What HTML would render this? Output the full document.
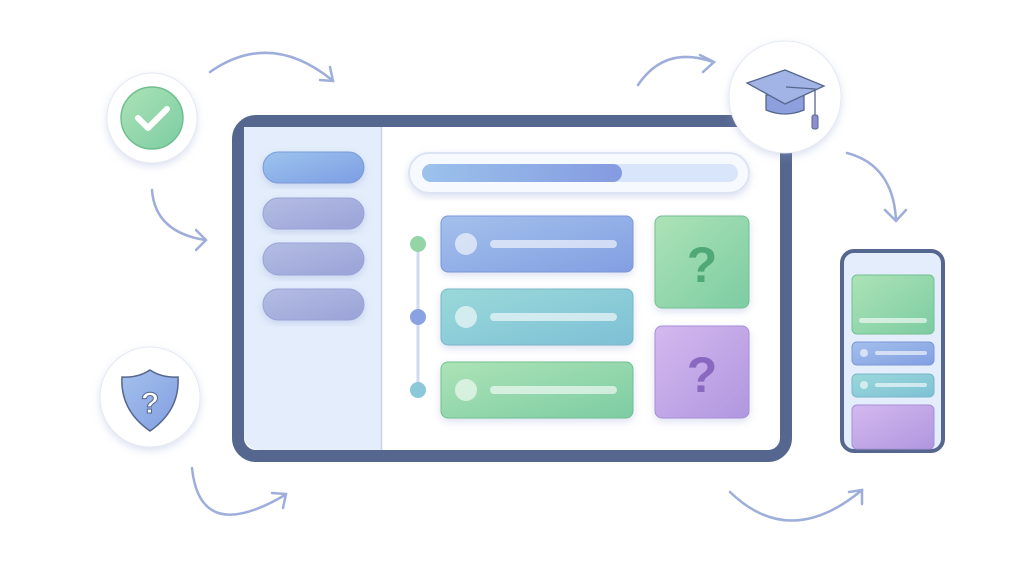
<!DOCTYPE html>
<html><head><meta charset="utf-8"><style>
html,body{margin:0;padding:0;background:#fff;width:1024px;height:576px;overflow:hidden}
</style></head><body>
<svg width="1024" height="576" viewBox="0 0 1024 576" xmlns="http://www.w3.org/2000/svg">
<defs>
<linearGradient id="gb" x1="0" y1="0" x2="1" y2="1"><stop offset="0" stop-color="#9cc4ee"/><stop offset="1" stop-color="#7d9de3"/></linearGradient>
<linearGradient id="gp" x1="0" y1="0" x2="1" y2="1"><stop offset="0" stop-color="#b4bde3"/><stop offset="1" stop-color="#9aa2d8"/></linearGradient>
<linearGradient id="c1" x1="0" y1="0" x2="1" y2="1"><stop offset="0" stop-color="#a4c0ec"/><stop offset="1" stop-color="#829fe2"/></linearGradient>
<linearGradient id="c2" x1="0" y1="0" x2="1" y2="1"><stop offset="0" stop-color="#9ad9d9"/><stop offset="1" stop-color="#7ec0d6"/></linearGradient>
<linearGradient id="c3" x1="0" y1="0" x2="1" y2="1"><stop offset="0" stop-color="#ace3b6"/><stop offset="1" stop-color="#7dcca3"/></linearGradient>
<linearGradient id="c4" x1="0" y1="0" x2="1" y2="1"><stop offset="0" stop-color="#d4b8ef"/><stop offset="1" stop-color="#b097df"/></linearGradient>
<linearGradient id="pr" x1="0" y1="0" x2="1" y2="0"><stop offset="0" stop-color="#9cc2ec"/><stop offset="1" stop-color="#849be0"/></linearGradient>
<filter id="sh" x="-20%" y="-20%" width="140%" height="140%"><feDropShadow dx="0" dy="3" stdDeviation="4" flood-color="#8c9bd0" flood-opacity="0.3"/></filter>
</defs>
<g fill="none" stroke="#9eaedb" stroke-width="2.5" stroke-linecap="round">
<path d="M210 72 Q270 30 332 80"/><path d="M320 80 L333 81 L330 67"/>
<path d="M152 190 Q155 232 205 240"/><path d="M196 230 L206 240 L196 250"/>
<path d="M192 468 Q200 545 285 495"/><path d="M272 493 L286 494 L283 508"/>
<path d="M638 85 Q665 45 713 62"/><path d="M700 55 L714 62 L703 72"/>
<path d="M847 153 Q893 165 896 220"/><path d="M885 210 L896 221 L906 210"/>
<path d="M730 492 Q790 550 862 490"/><path d="M849 492 L862 490 L862 504"/>
</g>
<circle cx="152" cy="118" r="45" fill="#fff" stroke="#e6e9f3" stroke-width="1" filter="url(#sh)"/>
<circle cx="152" cy="118" r="31" fill="url(#c3)" stroke="#6ebf8f" stroke-width="1.5"/>
<path d="M138 118 L148 128 L167 109" fill="none" stroke="#fff" stroke-width="6" stroke-linecap="round" stroke-linejoin="round"/>
<circle cx="150" cy="397" r="50" fill="#fff" stroke="#e6e9f3" stroke-width="1" filter="url(#sh)"/>
<path d="M150 370 Q162 378 178 377 Q180 410 150 431 Q120 410 122 377 Q138 378 150 370 Z" fill="url(#c1)" stroke="#56678f" stroke-width="1.5"/>
<text x="150" y="413" font-family="Liberation Sans, sans-serif" font-size="30" font-weight="bold" fill="#fff" stroke="#56678f" stroke-width="1" text-anchor="middle">?</text>
<rect x="238" y="121" width="548" height="335" rx="18" fill="#fff" stroke="#56678f" stroke-width="12"/>
<path d="M244 127 H381 V450 H262 Q244 450 244 432 Z" fill="#e3edfb"/>
<line x1="381.5" y1="127" x2="381.5" y2="450" stroke="#c8d3ea" stroke-width="1.5"/>
<rect x="263" y="152" width="101" height="31" rx="15.5" fill="url(#gb)" stroke="#7a9ad9" filter="url(#sh)"/>
<rect x="263" y="198" width="101" height="31" rx="15.5" fill="url(#gp)" stroke="#9aa3d6" filter="url(#sh)"/>
<rect x="263" y="243" width="101" height="32" rx="16" fill="url(#gp)" stroke="#9aa3d6" filter="url(#sh)"/>
<rect x="263" y="289" width="101" height="31" rx="15.5" fill="url(#gp)" stroke="#9aa3d6" filter="url(#sh)"/>
<rect x="409" y="153" width="340" height="40" rx="20" fill="#f6f9fe" stroke="#dce4f3" stroke-width="2" filter="url(#sh)"/>
<rect x="422" y="164" width="316" height="18" rx="9" fill="#d9e5fa"/>
<rect x="422" y="164" width="200" height="18" rx="9" fill="url(#pr)"/>
<line x1="418" y1="244" x2="418" y2="390" stroke="#cfdaf0" stroke-width="3"/>
<circle cx="418" cy="244" r="8" fill="#94d5a8"/>
<circle cx="418" cy="317" r="8" fill="#8aa2e2"/>
<circle cx="418" cy="390" r="8" fill="#8cc7da"/>
<g filter="url(#sh)">
<rect x="441" y="216" width="192" height="56" rx="7" fill="url(#c1)" stroke="#7d96d8"/>
<rect x="441" y="289" width="192" height="56" rx="7" fill="url(#c2)" stroke="#77b8c8"/>
<rect x="441" y="362" width="192" height="56" rx="7" fill="url(#c3)" stroke="#72c18f"/>
<rect x="655" y="216" width="94" height="92" rx="7" fill="url(#c3)" stroke="#72c18f"/>
<rect x="655" y="326" width="94" height="92" rx="7" fill="url(#c4)" stroke="#a58fd6"/>
</g>
<g fill="#fff" opacity="0.6"><circle cx="466" cy="244" r="11"/><circle cx="466" cy="317" r="11"/><circle cx="466" cy="390" r="11"/>
<rect x="490" y="240" width="127" height="8" rx="4"/><rect x="490" y="313" width="127" height="8" rx="4"/><rect x="490" y="386" width="127" height="8" rx="4"/></g>
<text x="702" y="282" font-family="Liberation Sans, sans-serif" font-size="50" font-weight="bold" fill="#4fa878" text-anchor="middle">?</text>
<text x="702" y="392" font-family="Liberation Sans, sans-serif" font-size="50" font-weight="bold" fill="#8a68c0" text-anchor="middle">?</text>
<circle cx="785" cy="97" r="56" fill="#fff" stroke="#e6e9f3" filter="url(#sh)"/>
<path d="M766 95 V110 Q785 118 804 110 V95 Z" fill="#8da0dd" stroke="#56678f" stroke-width="1.3"/>
<path d="M747 83 L785 70 L824 86 L785 104 Z" fill="#a2b3e6" stroke="#56678f" stroke-width="1.3"/>
<path d="M786 87 L815 89 V116" fill="none" stroke="#56678f" stroke-width="1.3"/>
<rect x="812" y="115" width="6" height="14" rx="2" fill="#8d8fcf" stroke="#56678f"/>
<rect x="842" y="251" width="101" height="200" rx="12" fill="#e3edfb" stroke="#56678f" stroke-width="4"/>
<rect x="852" y="275" width="82" height="59" rx="5" fill="url(#c3)" stroke="#72c18f"/>
<rect x="859" y="318" width="68" height="5" rx="2.5" fill="#fff" opacity="0.6"/>
<rect x="852" y="342" width="82" height="23" rx="5" fill="url(#c1)" stroke="#7d96d8"/>
<rect x="852" y="374" width="82" height="23" rx="5" fill="url(#c2)" stroke="#77b8c8"/>
<g fill="#fff" opacity="0.6"><circle cx="864" cy="353" r="4"/><circle cx="864" cy="385" r="4"/><rect x="875" y="351" width="52" height="4" rx="2"/><rect x="875" y="383" width="52" height="4" rx="2"/></g>
<rect x="852" y="405" width="82" height="44" rx="5" fill="url(#c4)" stroke="#a58fd6"/>
</svg>
</body></html>
